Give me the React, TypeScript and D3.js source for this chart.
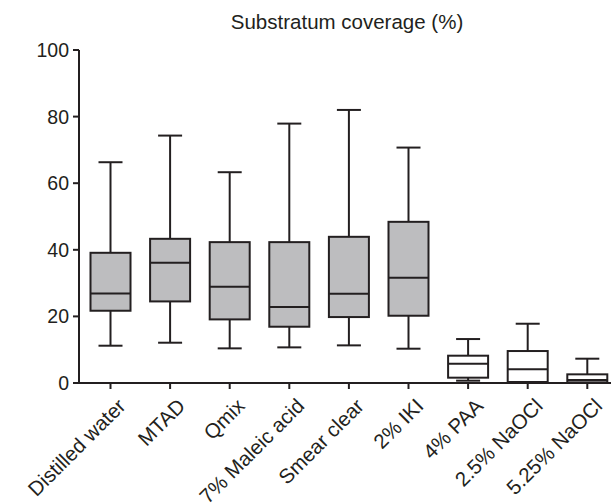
import React from "react";
import * as d3 from "d3";

const categories = ["Distilled water", "MTAD", "Qmix", "7% Maleic acid", "Smear clear", "2% IKI", "4% PAA", "2.5% NaOCl", "5.25% NaOCl"];
const whiskerLow = [11.2, 12.1, 10.4, 10.7, 11.3, 10.3, 0.7, 0.2, 0];
const q1 = [21.7, 24.5, 19.1, 16.9, 19.8, 20.2, 1.6, 0.3, 0.2];
const median = [26.9, 36.1, 28.9, 22.8, 26.8, 31.6, 5.8, 4.1, 0.9];
const q3 = [39.1, 43.3, 42.3, 42.3, 43.9, 48.4, 8.2, 9.6, 2.6];
const whiskerHigh = [66.3, 74.3, 63.3, 77.9, 82.0, 70.7, 13.2, 17.8, 7.3];
const filled = [true, true, true, true, true, true, false, false, false];
const yTicks = [0, 20, 40, 60, 80, 100];
const title = "Substratum coverage (%)";

const W = 613, H = 504;
const ink = "#231f20";
const font = "'Liberation Sans', Arial, Helvetica, sans-serif";

export default function App() {
  const y = d3.scaleLinear().domain([0, 100]).range([383, 50]);
  const x = d3.scalePoint<string>().domain(categories).range([110.5, 587.3]);
  const axisX0 = 79, axisX1 = 611;
  const boxW = 40, capW = 24;
  return (
    <svg width={W} height={H} style={{ position: "absolute", left: 0, top: 0 }}>
      <text x={347} y={29} textAnchor="middle" fontFamily={font} fontSize={20.5} fill={ink}>{title}</text>
      {/* y axis */}
      <line x1={axisX0} x2={axisX0} y1={y(100)} y2={y(0)} stroke={ink} strokeWidth={2} />
      {yTicks.map(t => (
        <g key={t}>
          <line x1={axisX0 - 6} x2={axisX0} y1={y(t)} y2={y(t)} stroke={ink} strokeWidth={2} />
          <text x={axisX0 - 10} y={y(t)} dy="0.36em" textAnchor="end" fontFamily={font} fontSize={19.5} fill={ink}>{t}</text>
        </g>
      ))}
      {/* boxes */}
      {categories.map((c, i) => {
        const cx = x(c)!;
        return (
          <g key={c} stroke={ink} strokeWidth={2} fill="none">
            <line x1={cx} x2={cx} y1={y(whiskerHigh[i])} y2={y(q3[i])} />
            <line x1={cx} x2={cx} y1={y(q1[i])} y2={y(whiskerLow[i])} />
            <line x1={cx - capW / 2} x2={cx + capW / 2} y1={y(whiskerHigh[i])} y2={y(whiskerHigh[i])} />
            <line x1={cx - capW / 2} x2={cx + capW / 2} y1={y(whiskerLow[i])} y2={y(whiskerLow[i])} />
            <rect x={cx - boxW / 2} width={boxW} y={y(q3[i])} height={y(q1[i]) - y(q3[i])} fill={filled[i] ? "#bdbdbf" : "#ffffff"} />
            <line x1={cx - boxW / 2} x2={cx + boxW / 2} y1={y(median[i])} y2={y(median[i])} />
          </g>
        );
      })}
      {/* x axis */}
      <line x1={axisX0 - 1} x2={axisX1} y1={y(0)} y2={y(0)} stroke={ink} strokeWidth={2} />
      {categories.map(c => (
        <g key={c}>
          <line x1={x(c)!} x2={x(c)!} y1={y(0)} y2={y(0) + 6} stroke={ink} strokeWidth={2} />
          <text transform={`translate(${x(c)! + 6},${y(0) + 14}) rotate(-45)`} textAnchor="end" dy="0.71em" fontFamily={font} fontSize={20.5} fill={ink}>{c}</text>
        </g>
      ))}
    </svg>
  );
}
